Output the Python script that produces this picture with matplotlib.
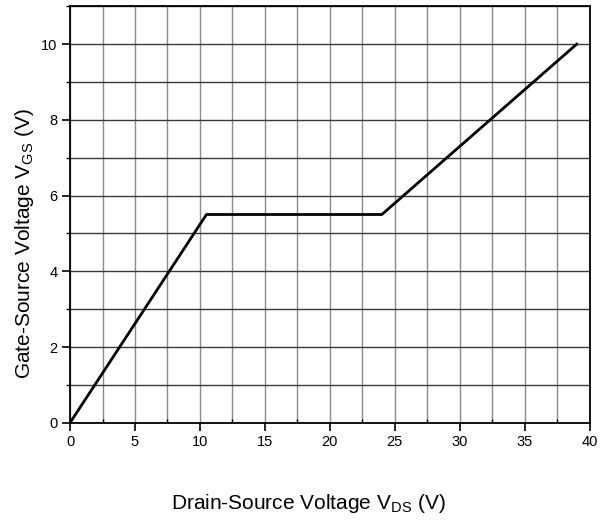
import matplotlib
matplotlib.use("Agg")
import matplotlib.pyplot as plt
from matplotlib.ticker import MultipleLocator

plt.rcParams['font.family'] = ['Liberation Sans', 'DejaVu Sans']
plt.rcParams['mathtext.fontset'] = 'custom'
plt.rcParams['mathtext.rm'] = 'Liberation Sans'

# gate charge curve corners
vds = [0, 10.5, 24, 39]
vgs = [0, 5.5, 5.5, 10]
x_ticks = [0, 5, 10, 15, 20, 25, 30, 35, 40]
y_ticks = [0, 2, 4, 6, 8, 10]

fig = plt.figure(figsize=(6.1, 5.2), dpi=100)
ax = fig.add_axes([0.1148, 0.187, 0.852, 0.801])

ax.set_xlim(0, 40)
ax.set_ylim(0, 11)
ax.set_xticks(x_ticks)
ax.set_yticks(y_ticks)
ax.xaxis.set_minor_locator(MultipleLocator(2.5))
ax.yaxis.set_minor_locator(MultipleLocator(1))

ax.grid(which='both', axis='x', color='#8a8a8a', linewidth=1)
ax.grid(which='both', axis='y', color='#3a3a3a', linewidth=1)
ax.set_axisbelow(True)

ax.plot(vds, vgs, '-k', linewidth=2)

for s in ax.spines.values():
    s.set_linewidth(1.3)
ax.tick_params(which='major', direction='out', length=6, width=1.2, labelsize=10.5, pad=3)
ax.tick_params(which='minor', length=3, width=1)
ax.tick_params(axis='x', which='minor', direction='in')
ax.tick_params(axis='y', which='minor', direction='out')

ax.set_xlabel('Drain-Source Voltage V$_{\\mathrm{DS}}$ (V)', fontsize=15)
ax.set_ylabel('Gate-Source Voltage V$_{\\mathrm{GS}}$ (V)', fontsize=15)
ax.xaxis.label.set_va('baseline')
ax.xaxis.set_label_coords(308 / 610, 0.022, transform=fig.transFigure)
ax.yaxis.label.set_va('center')
ax.yaxis.label.set_ha('center')
ax.yaxis.set_label_coords(25 / 610, 0.531, transform=fig.transFigure)

fig.savefig('out.png', dpi=100)
